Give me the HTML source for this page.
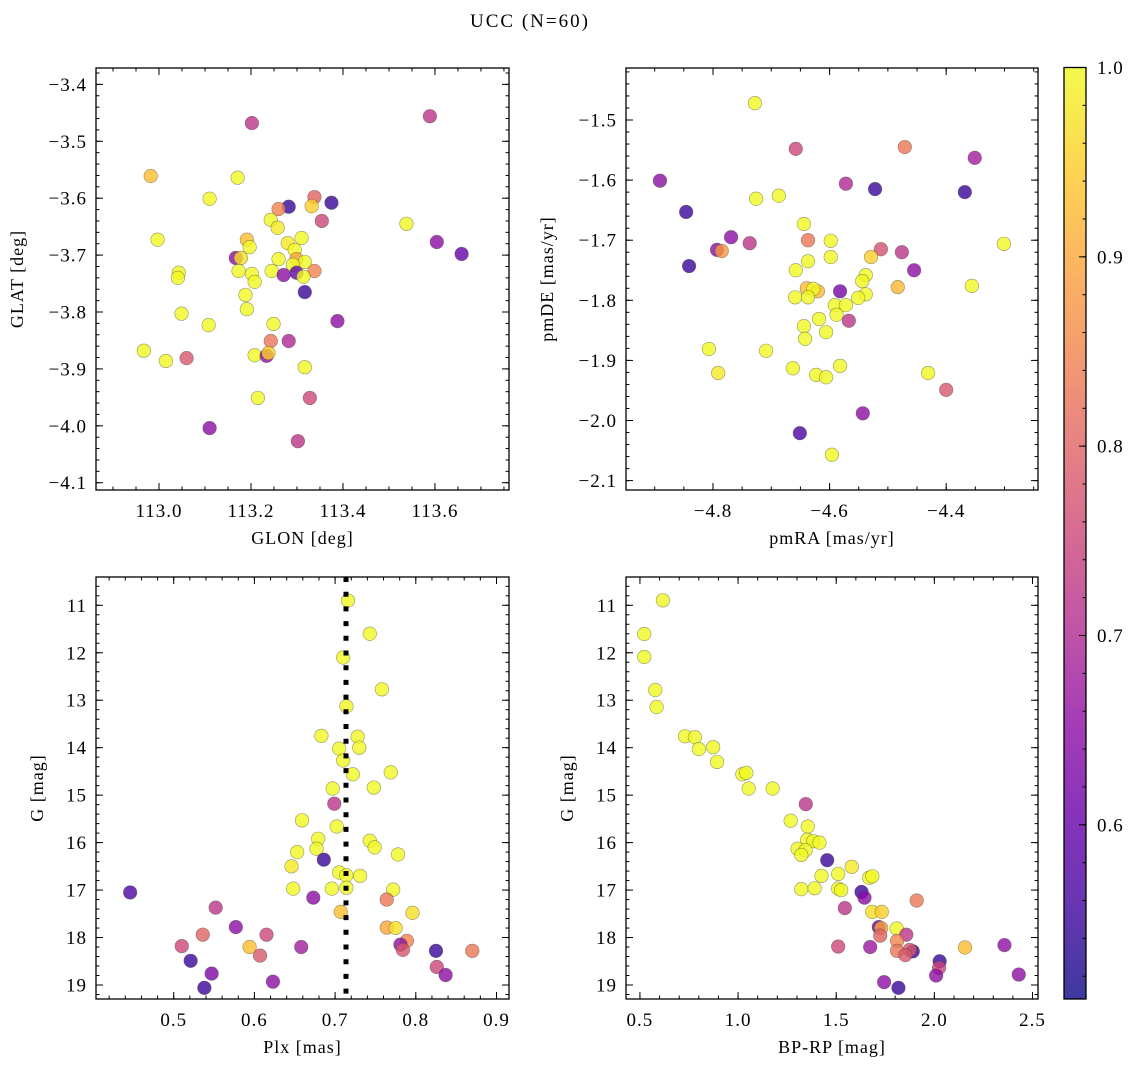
<!DOCTYPE html>
<html><head><meta charset="utf-8"><style>
html,body{margin:0;padding:0;background:#fff;}
svg{display:block;font-family:"Liberation Serif","DejaVu Serif",serif;}
</style></head><body>
<svg id="fig" width="1136" height="1067" viewBox="0 0 1136 1067" xmlns="http://www.w3.org/2000/svg">
<defs><linearGradient id="plasmaGrad" x1="0" y1="1" x2="0" y2="0"></linearGradient></defs>
<text x="530" y="27" text-anchor="middle" font-size="19" letter-spacing="2">UCC (N=60)</text>
</svg>
<script>
// ---- data ----
const tlGlon=[113.202,113.589,112.982,113.171,113.110,113.338,113.375,113.282,113.260,113.332,113.354,113.243,113.258,113.538,112.997,113.191,113.197,113.310,113.280,113.295,113.604,113.658,113.167,113.178,113.260,113.299,113.317,113.291,113.043,113.041,113.173,113.202,113.208,113.245,113.271,113.299,113.338,113.314,113.317,113.188,113.191,113.049,113.108,113.388,113.249,113.243,113.282,112.967,113.015,113.060,113.208,113.234,113.238,113.317,113.215,113.328,113.110,113.302];
const tlGlat=[-3.468,-3.456,-3.561,-3.564,-3.601,-3.598,-3.608,-3.615,-3.619,-3.614,-3.640,-3.638,-3.652,-3.645,-3.673,-3.673,-3.686,-3.670,-3.679,-3.691,-3.677,-3.698,-3.705,-3.705,-3.707,-3.707,-3.712,-3.717,-3.731,-3.740,-3.728,-3.733,-3.747,-3.728,-3.735,-3.731,-3.728,-3.738,-3.765,-3.770,-3.795,-3.803,-3.823,-3.816,-3.821,-3.851,-3.851,-3.868,-3.886,-3.881,-3.876,-3.877,-3.872,-3.897,-3.951,-3.951,-4.004,-4.027];
const tlProb=[0.72,0.72,0.93,1.0,1.0,0.8,0.55,0.55,0.85,0.95,0.75,1.0,0.98,1.0,1.0,0.93,1.0,1.0,0.98,1.0,0.65,0.6,0.65,0.97,1.0,0.9,1.0,1.0,1.0,1.0,1.0,1.0,1.0,1.0,0.65,0.6,0.85,1.0,0.55,1.0,1.0,1.0,1.0,0.65,1.0,0.83,0.7,1.0,1.0,0.78,1.0,0.65,0.95,1.0,1.0,0.75,0.65,0.72];

const trPmra=[-4.728,-4.658,-4.471,-4.351,-4.891,-4.572,-4.522,-4.368,-4.726,-4.687,-4.846,-4.644,-4.769,-4.737,-4.637,-4.598,-4.301,-4.793,-4.785,-4.512,-4.476,-4.529,-4.637,-4.598,-4.841,-4.658,-4.455,-4.538,-4.544,-4.356,-4.483,-4.639,-4.620,-4.628,-4.582,-4.538,-4.659,-4.637,-4.551,-4.591,-4.572,-4.588,-4.618,-4.567,-4.644,-4.606,-4.642,-4.807,-4.709,-4.663,-4.582,-4.791,-4.623,-4.606,-4.431,-4.400,-4.543,-4.651,-4.596];
const trPmde=[-1.472,-1.548,-1.545,-1.563,-1.601,-1.606,-1.615,-1.620,-1.631,-1.626,-1.653,-1.673,-1.695,-1.705,-1.700,-1.701,-1.706,-1.716,-1.718,-1.715,-1.720,-1.728,-1.735,-1.728,-1.743,-1.750,-1.750,-1.758,-1.768,-1.776,-1.778,-1.780,-1.785,-1.781,-1.785,-1.790,-1.795,-1.795,-1.796,-1.808,-1.808,-1.824,-1.831,-1.834,-1.843,-1.853,-1.864,-1.881,-1.884,-1.913,-1.909,-1.921,-1.924,-1.928,-1.921,-1.949,-1.988,-2.021,-2.057];
const trProb=[1.0,0.75,0.83,0.68,0.65,0.7,0.55,0.55,1.0,1.0,0.55,1.0,0.65,0.72,0.83,1.0,1.0,0.65,0.88,0.77,0.72,0.95,1.0,1.0,0.55,1.0,0.65,1.0,1.0,1.0,0.92,0.93,0.92,1.0,0.62,1.0,1.0,1.0,1.0,1.0,1.0,1.0,1.0,0.72,1.0,1.0,1.0,1.0,1.0,1.0,1.0,0.98,1.0,1.0,1.0,0.78,0.65,0.57,1.0];

const blPlx=[0.716,0.743,0.710,0.758,0.714,0.683,0.728,0.705,0.730,0.710,0.722,0.769,0.697,0.748,0.699,0.659,0.702,0.679,0.743,0.749,0.677,0.653,0.778,0.686,0.646,0.705,0.714,0.731,0.648,0.696,0.714,0.772,0.446,0.673,0.764,0.552,0.796,0.707,0.577,0.764,0.775,0.615,0.536,0.789,0.781,0.510,0.594,0.658,0.784,0.870,0.825,0.607,0.521,0.826,0.547,0.837,0.623,0.538];
const blG=[10.9,11.6,12.1,12.77,13.13,13.75,13.77,14.02,14.0,14.27,14.56,14.52,14.86,14.84,15.18,15.53,15.66,15.92,15.96,16.1,16.13,16.2,16.25,16.36,16.5,16.63,16.69,16.7,16.97,16.97,16.95,16.99,17.05,17.16,17.2,17.37,17.48,17.46,17.78,17.79,17.8,17.94,17.94,18.07,18.15,18.18,18.2,18.2,18.26,18.28,18.28,18.38,18.49,18.62,18.76,18.79,18.93,19.06];
const blProb=[1.0,1.0,1.0,1.0,1.0,1.0,1.0,1.0,1.0,1.0,1.0,1.0,1.0,1.0,0.72,1.0,1.0,1.0,1.0,1.0,1.0,1.0,1.0,0.55,0.98,1.0,1.0,1.0,1.0,1.0,1.0,1.0,0.57,0.65,0.83,0.72,0.97,0.93,0.65,0.9,0.97,0.75,0.8,0.85,0.65,0.75,0.93,0.68,0.78,0.83,0.55,0.78,0.55,0.75,0.63,0.65,0.65,0.55];
const plxMean=0.7135;

const brColor=[0.617,0.522,0.522,0.578,0.585,0.73,0.78,0.8,0.873,0.893,1.022,1.042,1.054,1.176,1.345,1.268,1.355,1.352,1.383,1.415,1.303,1.344,1.322,1.454,1.579,1.425,1.51,1.668,1.684,1.322,1.39,1.51,1.525,1.629,1.644,1.91,1.544,1.683,1.732,1.717,1.729,1.808,1.857,1.724,1.81,1.51,1.673,2.156,2.357,1.89,1.81,1.874,1.852,2.027,2.024,2.009,2.43,1.744,1.817];
const brG=[10.895,11.605,12.089,12.785,13.143,13.76,13.78,14.03,13.99,14.3,14.56,14.53,14.86,14.86,15.19,15.54,15.66,15.94,15.97,16.0,16.13,16.16,16.26,16.37,16.51,16.7,16.66,16.74,16.71,16.98,16.96,16.97,17.0,17.04,17.16,17.22,17.38,17.46,17.46,17.78,17.8,17.81,17.94,17.96,18.07,18.19,18.2,18.21,18.16,18.29,18.28,18.26,18.37,18.5,18.64,18.8,18.78,18.94,19.06];
const brProb=[1.0,1.0,1.0,1.0,1.0,1.0,1.0,1.0,1.0,1.0,1.0,1.0,1.0,1.0,0.72,1.0,1.0,1.0,1.0,1.0,1.0,1.0,1.0,0.55,0.98,1.0,1.0,1.0,1.0,1.0,1.0,1.0,1.0,0.55,0.65,0.83,0.72,0.97,0.95,0.6,0.9,1.0,0.72,0.8,0.85,0.75,0.67,0.93,0.65,0.55,0.83,0.78,0.78,0.55,0.75,0.65,0.65,0.65,0.55];

const cbTicks=[0.6,0.7,0.8,0.9,1.0];
const vmin=0.508, vmax=1.0;

// ---- helpers ----
const NS="http://www.w3.org/2000/svg";
const svg=document.getElementById('fig');
function mk(tag,attrs,parent){const e=document.createElementNS(NS,tag);for(const k in attrs)e.setAttribute(k,attrs[k]);(parent||svg).appendChild(e);return e;}
const plasma=[[13,8,135],[65,4,157],[106,0,168],[143,13,164],[177,42,144],[204,71,120],[225,100,98],[242,132,75],[252,166,54],[252,206,37],[240,249,33]];
function cmap(t){t=Math.max(0,Math.min(1,t));const f=t*10,i=Math.min(9,Math.floor(f)),r=f-i;const a=plasma[i],b=plasma[i+1];return 'rgb('+a.map((v,k)=>Math.round(v+(b[k]-v)*r)).join(',')+')';}
function fmt(v,d){const s=Math.abs(v).toFixed(d);return (v<-1e-9?'\u2212':'')+s;}
function range(a,b,s){const o=[];const n=Math.ceil(a/s-1e-6);for(let k=n;k*s<=b+1e-9;k++)o.push(+(k*s).toFixed(6));return o;}

const grad=document.getElementById('plasmaGrad');
for(let i=0;i<=10;i++){mk('stop',{offset:(i*10)+'%','stop-color':cmap(i/10)},grad);}

const TICKFS=19, TICKLS=1;

function panel(cfg){
  const g=mk('g',{});
  
  
  const sx=v=>cfg.x0+(v-cfg.xd[0])/(cfg.xd[1]-cfg.xd[0])*(cfg.x1-cfg.x0);
  const sy=v=>cfg.y0+(v-cfg.yd[0])/(cfg.yd[1]-cfg.yd[0])*(cfg.y1-cfg.y0);
  const lo=Math.min(...cfg.yd),hi=Math.max(...cfg.yd);
  const tg=mk('g',{stroke:'#000','stroke-width':1},g);
  
  
  range(cfg.xd[0],cfg.xd[1],cfg.xminor).forEach(v=>{const x=sx(v);mk('line',{x1:x,x2:x,y1:cfg.y1,y2:cfg.y1-3.5},tg);mk('line',{x1:x,x2:x,y1:cfg.y0,y2:cfg.y0+3.5},tg);});
  range(lo,hi,cfg.yminor).forEach(v=>{const y=sy(v);mk('line',{x1:cfg.x0,x2:cfg.x0+3.5,y1:y,y2:y},tg);mk('line',{x1:cfg.x1,x2:cfg.x1-3.5,y1:y,y2:y},tg);});
  range(cfg.xd[0],cfg.xd[1],cfg.xmajor).forEach(v=>{const x=sx(v);mk('line',{x1:x,x2:x,y1:cfg.y1,y2:cfg.y1-7},tg);mk('line',{x1:x,x2:x,y1:cfg.y0,y2:cfg.y0+7},tg);
    const t=mk('text',{x:x,y:cfg.y1+27,'text-anchor':'middle','font-size':TICKFS,'letter-spacing':TICKLS},g);t.textContent=fmt(v,cfg.xdec);
    
    });
  range(lo,hi,cfg.ymajor).forEach(v=>{const y=sy(v);mk('line',{x1:cfg.x0,x2:cfg.x0+7,y1:y,y2:y},tg);mk('line',{x1:cfg.x1,x2:cfg.x1-7,y1:y,y2:y},tg);
    const t=mk('text',{x:cfg.x0-9,y:y+6.5,'text-anchor':'end','font-size':TICKFS,'letter-spacing':TICKLS},g);t.textContent=fmt(v,cfg.ydec);
    
    });
  const pg=mk('g',{},g);
  
  
  cfg.xs.forEach((xv,i)=>{
    const c=mk('circle',{cx:sx(xv),cy:sy(cfg.ys[i]),r:6.8,fill:cmap((cfg.ps[i]-vmin)/(vmax-vmin)),'fill-opacity':0.8,stroke:'rgba(70,70,60,0.55)','stroke-width':0.6},pg);
    
    
  });
  if(cfg.vline!==undefined){const x=sx(cfg.vline);const l=mk('line',{x1:x,x2:x,y1:cfg.y0,y2:cfg.y1,stroke:'#000','stroke-width':5,'stroke-dasharray':'5 9.7'},g);
    
    }
  const fr=mk('rect',{x:cfg.x0,y:cfg.y0,width:cfg.x1-cfg.x0,height:cfg.y1-cfg.y0,fill:'none',stroke:'#000','stroke-width':1.3},g);
  
  
  const xl=mk('text',{x:(cfg.x0+cfg.x1)/2,y:cfg.y1+54,'text-anchor':'middle','font-size':18,'letter-spacing':1},g);xl.textContent=cfg.xlabel;
  
  
  const yx=cfg.ylabX,yy=(cfg.y0+cfg.y1)/2;
  const yl=mk('text',{x:yx,y:yy,'text-anchor':'middle','font-size':18,'letter-spacing':1,transform:'rotate(-90 '+yx+' '+yy+')'},g);yl.textContent=cfg.ylabel;
  
  
}

panel({name:'glon-glat-panel',x0:96,x1:509,y0:68,y1:490,xd:[112.863,113.761],yd:[-3.3712,-4.1128],xmajor:0.2,xminor:0.05,ymajor:0.1,yminor:0.02,xdec:1,ydec:1,xs:tlGlon,ys:tlGlat,ps:tlProb,xlabel:'GLON [deg]',ylabel:'GLAT [deg]',ylabX:23});
panel({name:'pm-panel',x0:626,x1:1038,y0:68,y1:490,xd:[-4.9492,-4.2425],yd:[-1.4135,-2.1156],xmajor:0.2,xminor:0.05,ymajor:0.1,yminor:0.02,xdec:1,ydec:1,xs:trPmra,ys:trPmde,ps:trProb,xlabel:'pmRA [mas/yr]',ylabel:'pmDE [mas/yr]',ylabX:553});
panel({name:'plx-g-panel',x0:96,x1:509,y0:577,y1:999,xd:[0.4037,0.9155],yd:[10.404,19.295],xmajor:0.1,xminor:0.02,ymajor:1,yminor:0.2,xdec:1,ydec:0,xs:blPlx,ys:blG,ps:blProb,xlabel:'Plx [mas]',ylabel:'G [mag]',ylabX:43,vline:plxMean});
panel({name:'cmd-panel',x0:626,x1:1038,y0:577,y1:999,xd:[0.429,2.528],yd:[10.404,19.295],xmajor:0.5,xminor:0.1,ymajor:1,yminor:0.2,xdec:1,ydec:0,xs:brColor,ys:brG,ps:brProb,xlabel:'BP-RP [mag]',ylabel:'G [mag]',ylabX:573});

(function(){
  const x0=1064,x1=1086,y0=67.5,y1=999;
  const g=mk('g',{});
  
  
  mk('rect',{x:x0,y:y0,width:x1-x0,height:y1-y0,fill:'url(#plasmaGrad)','fill-opacity':0.8},g);
  const sy=v=>y1-(v-vmin)/(vmax-vmin)*(y1-y0);
  range(vmin,vmax,0.02).forEach(v=>{const y=sy(v);mk('line',{x1:x1,x2:x1-3.5,y1:y,y2:y,stroke:'#000','stroke-width':1},g);});
  cbTicks.forEach(v=>{const y=sy(v);mk('line',{x1:x1,x2:x1-7,y1:y,y2:y,stroke:'#000','stroke-width':1},g);
    const t=mk('text',{x:x1+11,y:y+6.5,'font-size':TICKFS,'letter-spacing':TICKLS},g);t.textContent=v.toFixed(1);
    
    });
  mk('rect',{x:x0,y:y0,width:x1-x0,height:y1-y0,fill:'none',stroke:'#000','stroke-width':1.3},g);
})();
</script>
</body></html>
